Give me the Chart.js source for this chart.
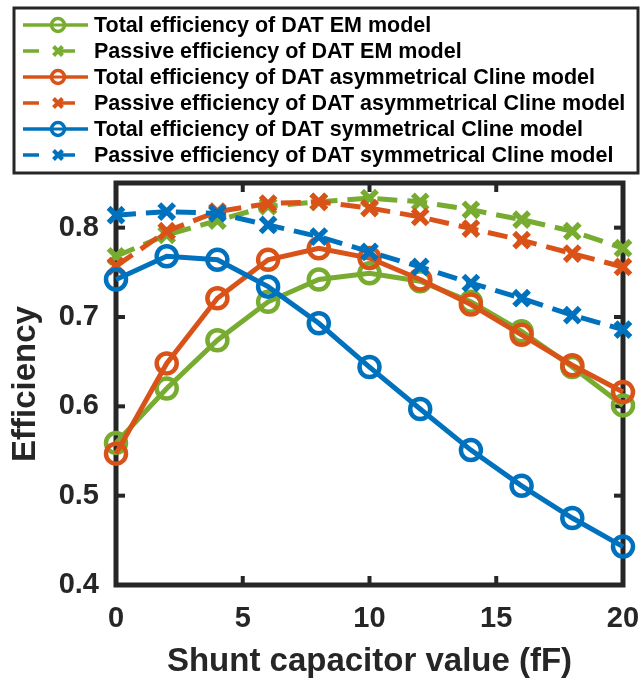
<!DOCTYPE html>
<html>
<head>
<meta charset="utf-8">
<script src="https://cdn.jsdelivr.net/npm/chart.js@4.4.1/dist/chart.umd.min.js"></script>
<style>
  html, body { margin: 0; padding: 0; background: #fff; }
</style>
</head>
<body>
<canvas id="effChart" width="641" height="682"></canvas>
<script>
// shunt capacitor values (fF)
const capValues = [0, 2, 4, 6, 8, 10, 12, 14, 16, 18, 20];

const totalEM        = [0.559, 0.620, 0.674, 0.717, 0.742, 0.749, 0.740, 0.717, 0.684, 0.644, 0.601];
const passiveEM      = [0.768, 0.792, 0.808, 0.824, 0.829, 0.833, 0.829, 0.820, 0.809, 0.796, 0.777];
const totalAsym      = [0.547, 0.648, 0.721, 0.764, 0.777, 0.766, 0.742, 0.714, 0.680, 0.646, 0.616];
const passiveAsym    = [0.757, 0.796, 0.818, 0.827, 0.829, 0.822, 0.812, 0.799, 0.786, 0.771, 0.756];
const totalSym       = [0.742, 0.768, 0.764, 0.734, 0.693, 0.644, 0.597, 0.551, 0.511, 0.475, 0.443];
const passiveSym     = [0.814, 0.818, 0.816, 0.803, 0.790, 0.773, 0.756, 0.738, 0.721, 0.702, 0.686];

const yTicks = [0.4, 0.5, 0.6, 0.7, 0.8];
const xTicks = [0, 5, 10, 15, 20];

const GREEN = '#77AC30';
const ORANGE = '#D95319';
const BLUE = '#0072BD';
const AXIS = '#262626';

function pts(vals) {
  return capValues.map((c, i) => ({ x: c, y: vals[i] }));
}

function solidSet(label, vals, color, order) {
  return {
    label: label,
    data: pts(vals),
    borderColor: color,
    backgroundColor: color,
    borderWidth: 5,
    pointStyle: 'circle',
    pointRadius: 10,
    pointBorderWidth: 4.5,
    pointBackgroundColor: 'rgba(0,0,0,0)',
    pointBorderColor: color,
    clip: false,
    order: order
  };
}

function dashSet(label, vals, color, order) {
  return {
    label: label,
    data: pts(vals),
    borderColor: color,
    backgroundColor: color,
    borderWidth: 5,
    borderDash: [20, 10],
    pointStyle: 'crossRot',
    pointRadius: 10.5,
    pointBorderWidth: 5.5,
    pointBorderColor: color,
    clip: false,
    order: order
  };
}

// axes box with inward ticks, drawn under the data
const boxPlugin = {
  id: 'boxPlugin',
  beforeDatasetsDraw(chart) {
    const { ctx, chartArea: a, scales } = chart;
    ctx.save();
    ctx.strokeStyle = AXIS;
    ctx.lineWidth = 5;
    ctx.strokeRect(a.left, a.top, a.right - a.left, a.bottom - a.top);
    ctx.fillStyle = AXIS;
    const tl = 9, tw = 4;
    xTicks.forEach(v => {
      const x = scales.x.getPixelForValue(v);
      ctx.fillRect(x - tw / 2, a.bottom - tl, tw, tl);
      ctx.fillRect(x - tw / 2, a.top, tw, tl);
    });
    yTicks.forEach(v => {
      const y = scales.y.getPixelForValue(v);
      ctx.fillRect(a.left, y - tw / 2, tl, tw);
      ctx.fillRect(a.right - tl, y - tw / 2, tl, tw);
    });
    ctx.restore();
  }
};

// legend box above the plot
const legendPlugin = {
  id: 'legendPlugin',
  afterDraw(chart) {
    const ctx = chart.ctx;
    ctx.save();
    ctx.fillStyle = '#fff';
    ctx.fillRect(14, 8, 624, 165);
    ctx.strokeStyle = AXIS;
    ctx.lineWidth = 3;
    ctx.strokeRect(14, 8, 624, 165);
    ctx.font = 'bold 21.5px "Liberation Sans", Arial, sans-serif';
    ctx.textBaseline = 'middle';
    chart.data.datasets.forEach((ds, i) => {
      const y = 25 + i * 26;
      ctx.strokeStyle = ds.borderColor;
      ctx.lineWidth = 3.5;
      ctx.beginPath();
      if (ds.borderDash) {
        ctx.moveTo(23, y); ctx.lineTo(39, y);
        ctx.moveTo(58, y); ctx.lineTo(75, y);
        ctx.stroke();
        ctx.lineWidth = 4;
        const d = 4.5;
        ctx.beginPath();
        ctx.moveTo(58 - d, y - d); ctx.lineTo(58 + d, y + d);
        ctx.moveTo(58 - d, y + d); ctx.lineTo(58 + d, y - d);
        ctx.stroke();
      } else {
        ctx.moveTo(23, y); ctx.lineTo(88, y);
        ctx.stroke();
        ctx.beginPath();
        ctx.fillStyle = '#fff';
        ctx.arc(58, y, 6.5, 0, Math.PI * 2);
        ctx.fill();
        ctx.lineWidth = 3;
        ctx.beginPath();
        ctx.moveTo(52, y); ctx.lineTo(64, y);
        ctx.stroke();
        ctx.lineWidth = 3.5;
        ctx.beginPath();
        ctx.arc(58, y, 6.5, 0, Math.PI * 2);
        ctx.stroke();
      }
      ctx.fillStyle = '#000';
      ctx.fillText(ds.label, 94, y + 1);
    });
    ctx.restore();
  }
};

const ctx = document.getElementById('effChart').getContext('2d');

const effChart = new Chart(ctx, {
  type: 'line',
  data: {
    datasets: [
      solidSet('Total efficiency of DAT EM model', totalEM, GREEN, 6),
      dashSet('Passive efficiency of DAT EM model', passiveEM, GREEN, 5),
      solidSet('Total efficiency of DAT asymmetrical Cline model', totalAsym, ORANGE, 4),
      dashSet('Passive efficiency of DAT asymmetrical Cline model', passiveAsym, ORANGE, 3),
      solidSet('Total efficiency of DAT symmetrical Cline model', totalSym, BLUE, 2),
      dashSet('Passive efficiency of DAT symmetrical Cline model', passiveSym, BLUE, 1)
    ]
  },
  options: {
    responsive: false,
    animation: false,
    devicePixelRatio: 1,
    layout: {
      padding: { top: 183, right: 18, left: 0, bottom: 0 }
    },
    plugins: {
      legend: { display: false },
      tooltip: { enabled: false }
    },
    scales: {
      x: {
        type: 'linear',
        min: 0,
        max: 20,
        afterFit: s => { s.height = 97; s.paddingLeft = 0; s.paddingRight = 0; },
        afterBuildTicks: s => { s.ticks = xTicks.map(v => ({ value: v })); },
        grid: { display: false, drawTicks: false },
        border: { display: false },
        ticks: {
          color: AXIS,
          padding: 17,
          maxRotation: 0,
          font: { family: '"Liberation Sans", Arial, sans-serif', size: 29, weight: 'bold' }
        },
        title: {
          display: true,
          text: 'Shunt capacitor value (fF)',
          color: AXIS,
          padding: { top: 0, bottom: 0 },
          font: { family: '"Liberation Sans", Arial, sans-serif', size: 33, weight: 'bold' }
        }
      },
      y: {
        min: 0.4,
        max: 0.85,
        afterFit: s => { s.width = 116; },
        afterBuildTicks: s => { s.ticks = yTicks.map(v => ({ value: v })); },
        grid: { display: false, drawTicks: false },
        border: { display: false },
        ticks: {
          color: AXIS,
          padding: 17,
          callback: v => v.toFixed(1),
          font: { family: '"Liberation Sans", Arial, sans-serif', size: 29, weight: 'bold' }
        },
        title: {
          display: true,
          text: 'Efficiency',
          color: AXIS,
          padding: { top: 6, bottom: 0 },
          font: { family: '"Liberation Sans", Arial, sans-serif', size: 33, weight: 'bold' }
        }
      }
    }
  },
  plugins: [boxPlugin, legendPlugin]
});
</script>
</body>
</html>
